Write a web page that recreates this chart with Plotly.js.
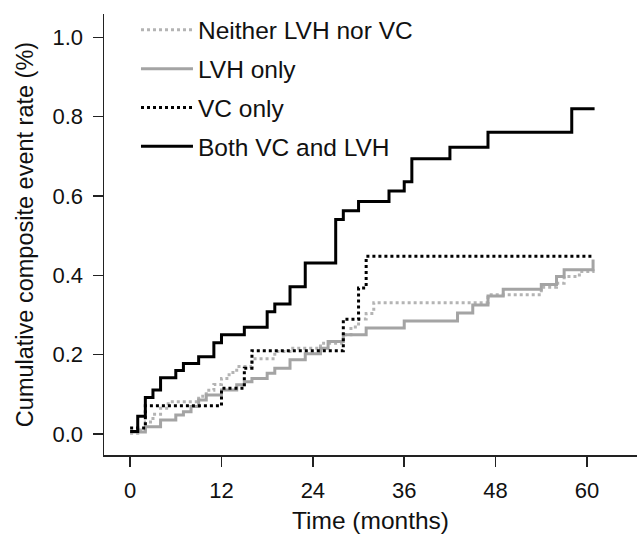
<!DOCTYPE html>
<html>
<head>
<meta charset="utf-8">
<script src="https://cdn.plot.ly/plotly-3.0.1.min.js"></script>
<style>
  html, body { margin: 0; padding: 0; background: #fff; }
  #chart { width: 637px; height: 534px; }
</style>
</head>
<body>
<div id="chart"></div>
<script>
// Series names
const seriesNames = ["Neither LVH nor VC", "LVH only", "VC only", "Both VC and LVH"];

// Neither LVH nor VC (step times in months, cumulative rate)
const monthsNeither = [0, 1, 2, 3, 4, 5, 9, 10, 11, 12, 13, 14, 16, 19, 21, 25, 28, 29, 30, 31, 32, 47, 54, 56, 57, 59, 60.8];
const rateNeither   = [0.002, 0.01, 0.03, 0.05, 0.065, 0.081, 0.095, 0.11, 0.125, 0.14, 0.155, 0.17, 0.19, 0.208, 0.216, 0.229, 0.25, 0.27, 0.29, 0.304, 0.331, 0.351, 0.37, 0.38, 0.397, 0.41, 0.42];

// LVH only
const monthsLVH = [0, 2, 4, 6, 7, 8, 9, 10, 12, 14, 15, 16, 18, 19, 21, 23, 25, 26, 28, 31, 36, 43, 45, 47, 49, 54, 56, 57, 60.8, 60.8];
const rateLVH   = [0.005, 0.018, 0.035, 0.048, 0.056, 0.069, 0.086, 0.098, 0.111, 0.124, 0.132, 0.14, 0.153, 0.166, 0.187, 0.202, 0.216, 0.233, 0.25, 0.267, 0.285, 0.305, 0.325, 0.348, 0.365, 0.377, 0.397, 0.414, 0.414, 0.44];

// VC only
const monthsVC = [0, 2, 12, 15, 16, 28, 30, 31, 60.8];
const rateVC   = [0.015, 0.071, 0.115, 0.166, 0.21, 0.289, 0.368, 0.448, 0.448];

// Both VC and LVH
const monthsBoth = [0, 1, 2, 3, 4, 6, 7, 9, 11, 12, 15, 18, 19, 21, 23, 27, 28, 30, 34, 36, 37, 42, 47, 58, 61];
const rateBoth   = [0.006, 0.045, 0.092, 0.111, 0.142, 0.16, 0.178, 0.195, 0.23, 0.25, 0.269, 0.308, 0.328, 0.371, 0.431, 0.541, 0.563, 0.586, 0.613, 0.636, 0.694, 0.723, 0.761, 0.82, 0.82];

// Axis ticks
const xTicks = [0, 12, 24, 36, 48, 60];
const yTicks = [0, 0.2, 0.4, 0.6, 0.8, 1.0];
const yTickLabels = ["0.0", "0.2", "0.4", "0.6", "0.8", "1.0"];

const FONT = "Liberation Sans, Arial, Helvetica, sans-serif";

const traces = [
  { x: monthsNeither, y: rateNeither, name: seriesNames[0], legendgroup: "g1", type: "scatter", mode: "lines",
    line: { shape: "hv", color: "#b4b4b4", width: 3, dash: "dot" } },
  { x: monthsLVH, y: rateLVH, name: seriesNames[1], legendgroup: "g2", type: "scatter", mode: "lines",
    line: { shape: "hv", color: "#a4a4a4", width: 3 } },
  { x: monthsVC, y: rateVC, name: seriesNames[2], legendgroup: "g3", type: "scatter", mode: "lines",
    line: { shape: "hv", color: "#000000", width: 3, dash: "dot" } },
  { x: monthsBoth, y: rateBoth, name: seriesNames[3], legendgroup: "g4", type: "scatter", mode: "lines",
    line: { shape: "hv", color: "#000000", width: 3 } }
];

const layout = {
  width: 637, height: 534,
  margin: { l: 104, r: 0, t: 14, b: 79 },
  paper_bgcolor: "#ffffff", plot_bgcolor: "#ffffff",
  font: { family: FONT, color: "#111111", size: 22 },
  showlegend: true,
  legend: {
    x: 0.06, y: 1.015, xanchor: "left", yanchor: "top",
    bgcolor: "rgba(0,0,0,0)", font: { family: FONT, size: 24.5, color: "#111111" },
    itemwidth: 52, tracegroupgap: 4, traceorder: "grouped"
  },
  xaxis: {
    range: [-3.43, 66.57], tickmode: "array", tickvals: xTicks,
    ticks: "outside", ticklen: 10, tickwidth: 1.5, tickcolor: "#222222",
    showline: true, linewidth: 1.5, linecolor: "#222222",
    showgrid: false, zeroline: false, ticklabelstandoff: 5,
    tickfont: { family: FONT, size: 22, color: "#111111" },
    title: { text: "Time (months)", font: { family: FONT, size: 24.5, color: "#111111" }, standoff: 10 }
  },
  yaxis: {
    range: [-0.053, 1.059], tickmode: "array", tickvals: yTicks, ticktext: yTickLabels,
    ticks: "outside", ticklen: 10, tickwidth: 1.5, tickcolor: "#222222",
    showline: true, linewidth: 1.5, linecolor: "#222222",
    showgrid: false, zeroline: false, ticklabelstandoff: 5,
    tickfont: { family: FONT, size: 22, color: "#111111" },
    title: { text: "Cumulative composite event rate (%)", font: { family: FONT, size: 23.5, color: "#111111" }, standoff: 12 }
  }
};

Plotly.newPlot("chart", traces, layout, { displayModeBar: false, staticPlot: true });
</script>
</body>
</html>
